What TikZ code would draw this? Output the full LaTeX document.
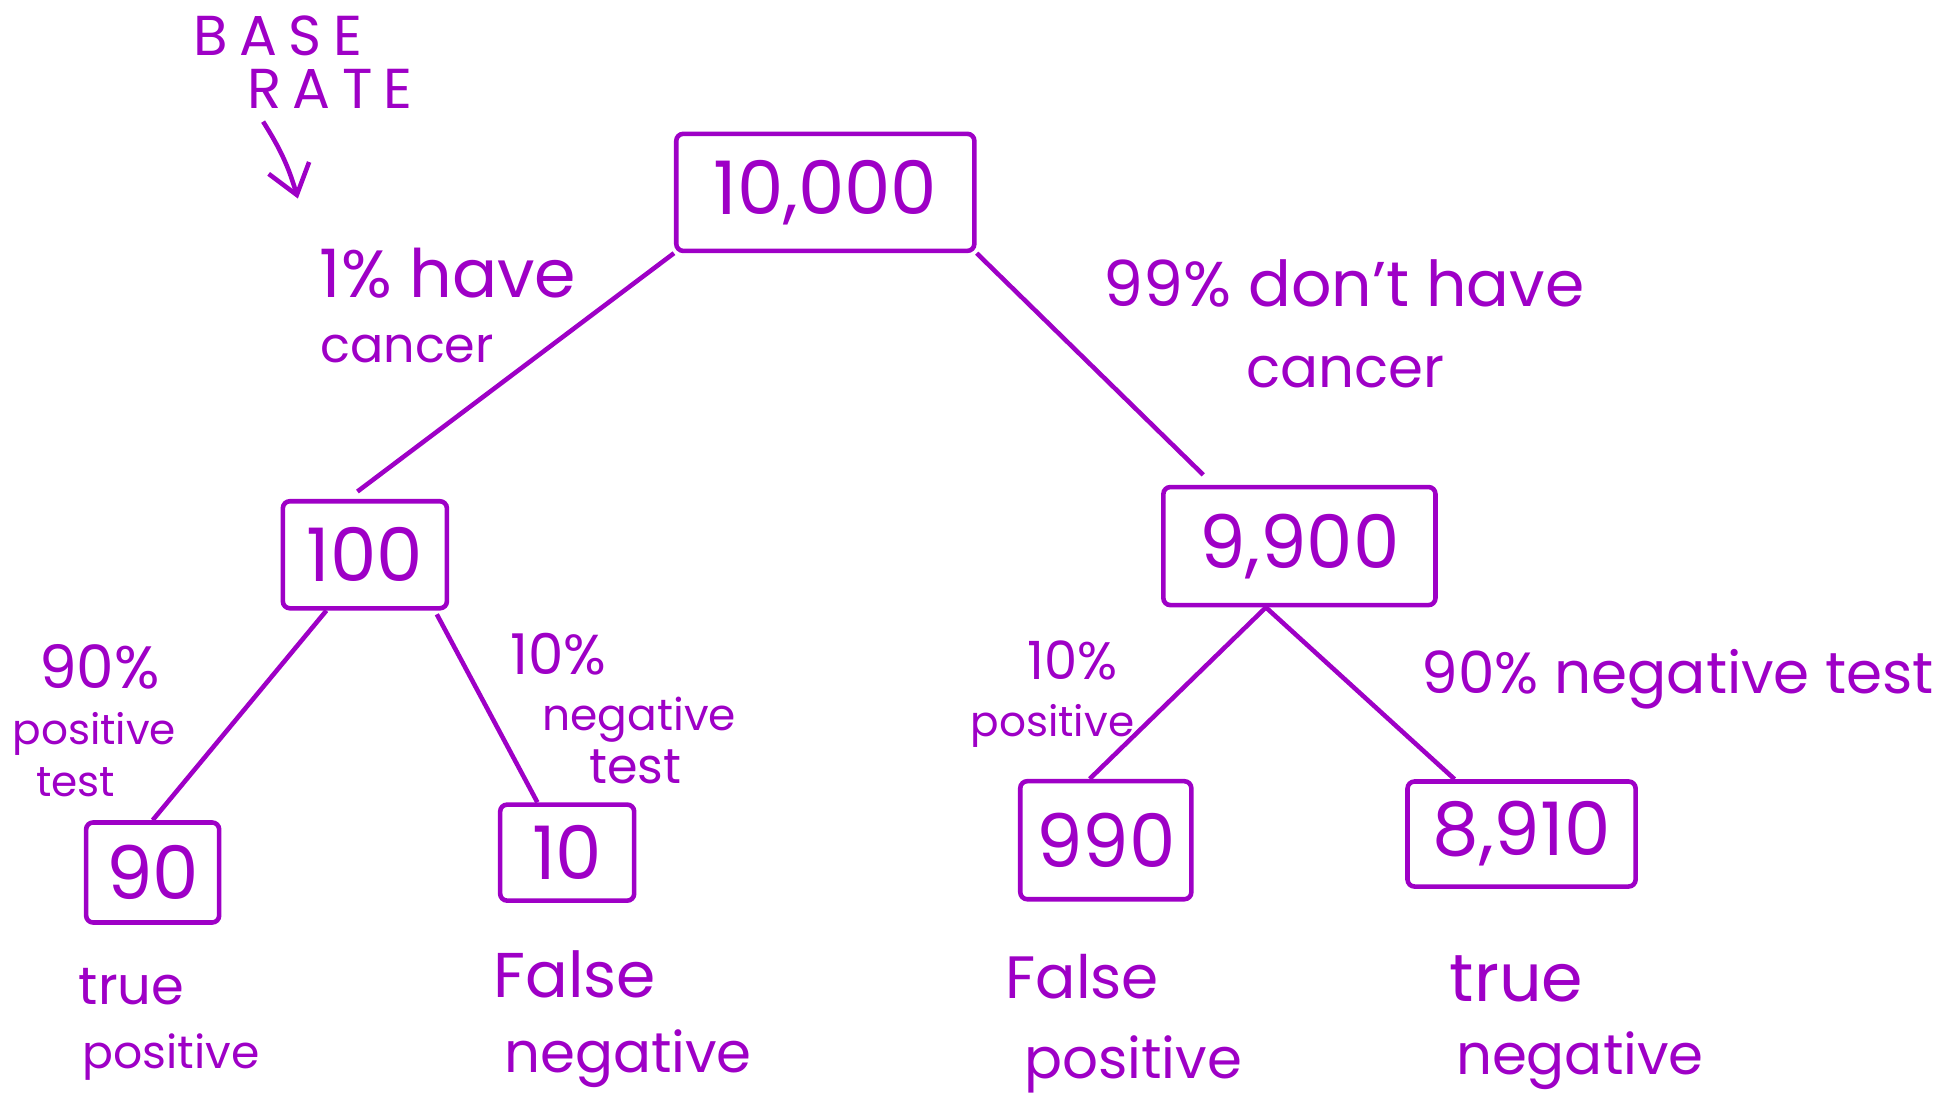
\documentclass[tikz,border=0pt]{standalone}
\usepackage{fontspec}
\setmainfont{Poppins}
\usepackage{tikz}
\usetikzlibrary{arrows.meta,calc}
\definecolor{inkpurple}{RGB}{158,0,198}

\tikzset{
  numbox/.style={draw=inkpurple, line width=1.3pt, rounded corners=2pt, inner sep=0pt,
    text=inkpurple, font=\fontsize{21}{25}\selectfont},
  lbl/.style={text=inkpurple, inner sep=0pt, font=\fontsize{#1}{#1}\selectfont},
  lbl/.default=17,
  caps/.style={text=inkpurple, inner sep=0pt,
    font=\fontsize{16}{18}\selectfont\addfontfeatures{LetterSpace=20}},
  branch/.style={draw=inkpurple, line width=1.3pt},
}

\begin{document}
\begin{tikzpicture}[x=0.01241cm, y=-0.01241cm]
    \useasboundingbox (0,0) rectangle (1568,886);
    % base rate note
    \node[caps] (base) at (224,29) {BASE};
    \node[caps] (rate) at (266,72) {RATE};
    \coordinate (basetip) at (240,160);
    \draw[branch, -{Straight Barb[length=8pt, width=12pt]}] (212,98) to[bend left=8] (basetip);
    % boxes
    \node[numbox, minimum width=2.98cm, minimum height=1.17cm] (total) at (665,155) {10,000};
    \node[numbox, minimum width=1.64cm, minimum height=1.07cm] (sick) at (294,447) {100};
    \node[numbox, minimum width=2.72cm, minimum height=1.18cm] (healthy) at (1047,440) {9,900};
    \node[numbox, minimum width=1.33cm, minimum height=1.0cm] (tp) at (123,703) {90};
    \node[numbox, minimum width=1.34cm, minimum height=0.96cm] (fn) at (457,687) {10};
    \node[numbox, minimum width=1.71cm, minimum height=1.18cm] (fp) at (891,677) {990};
    \node[numbox, minimum width=2.28cm, minimum height=1.05cm] (tn) at (1226,672) {8,910};
    % branches
    \draw[branch] (total.south west) -- ($(sick.north)+(-6,-6)$);
    \draw[branch] (total.south east) -- ($(healthy.north west)+(34,-8)$);
    \draw[branch] ($(sick.south)+(-31,0)$) -- (tp.north);
    \draw[branch] ($(sick.south east)+(-10,3)$) -- ($(fn.north)+(-24,0)$);
    \draw[branch] ($(healthy.south)+(-27,0)$) -- ($(fp.north)+(-13,0)$);
    \draw[branch] ($(healthy.south)+(-27,0)$) -- ($(tn.north)+(-54,0)$);
    % branch labels
    \node[lbl=19] (havea) at (361,220) {1\% have};
    \node[lbl=14] (haveb) at (328,281) {cancer};
    \node[lbl=18] (nota) at (1083,228) {99\% don't have};
    \node[lbl=16] (notb) at (1084,300) {cancer};
    \node[lbl] (tpa) at (80,537) {90\%};
    \node[lbl=12] (tpb) at (76,591) {positive};
    \node[lbl=12] (tpc) at (61,630) {test};
    \node[lbl=16] (fna) at (450,527) {10\%};
    \node[lbl=12.5] (fnb) at (515,580) {negative};
    \node[lbl=14] (fnc) at (512,618) {test};
    \node[lbl=15] (fpa) at (864,532) {10\%};
    \node[lbl=12] (fpb) at (848,585) {positive};
    \node[lbl=16.5] (tna) at (1352,547) {90\% negative test};
    % outcome labels
    \node[lbl=15] (tpd) at (106,795) {true};
    \node[lbl=13] (tpe) at (138,852) {positive};
    \node[lbl=18] (fnd) at (463,785) {False};
    \node[lbl=16] (fne) at (506,853) {negative};
    \node[lbl=17] (fpd) at (872,787) {False};
    \node[lbl=16] (fpe) at (913,858) {positive};
    \node[lbl=19] (tnd) at (1222,789) {true};
    \node[lbl=16] (tne) at (1273,855) {negative};
\end{tikzpicture}
\end{document}
